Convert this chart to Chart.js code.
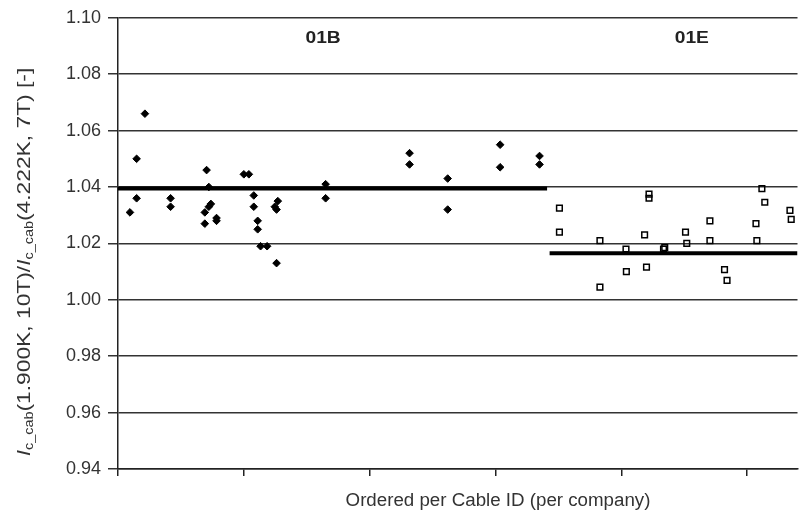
<!DOCTYPE html>
<html>
<head>
<meta charset="utf-8">
<script src="https://cdn.jsdelivr.net/npm/chart.js@4/dist/chart.umd.min.js"></script>
<style>
  body { margin: 0; background: #fff; }
  canvas { display: block; }
</style>
</head>
<body>
<canvas id="myChart" width="803" height="518"></canvas>
<script>
// cable order position (one x tick every 10) and Ic ratio, company 01B
var b01X = [0.95, 1.48, 1.48, 2.14, 4.18, 4.18, 6.9, 6.9, 7.04, 7.22, 7.22, 7.38, 7.83, 7.83,
            10.0, 10.4, 10.79, 10.79, 11.1, 11.1, 11.33, 11.85, 12.46, 12.6, 12.6, 12.7,
            16.5, 16.5, 23.17, 23.17, 26.2, 26.2, 30.37, 30.37, 33.5, 33.5];
var b01Y = [1.031, 1.036, 1.050, 1.066, 1.036, 1.033, 1.031, 1.027, 1.046, 1.040, 1.033, 1.034, 1.029, 1.028,
            1.0445, 1.0445, 1.037, 1.033, 1.028, 1.025, 1.019, 1.019, 1.033, 1.032, 1.013, 1.035,
            1.041, 1.036, 1.052, 1.048, 1.043, 1.032, 1.055, 1.047, 1.051, 1.048];

// company 01E
var e01X = [35.08, 35.08, 38.3, 38.3, 40.37, 40.4, 42.2, 42.2, 41.85, 42.0, 43.35, 43.45,
            45.1, 45.2, 47.04, 47.04, 48.2, 48.4, 50.77, 50.7, 51.17, 51.4, 53.4, 53.5];
var e01Y = [1.0325, 1.024, 1.021, 1.0045, 1.018, 1.010, 1.036, 1.0375, 1.023, 1.0116, 1.018, 1.0185,
            1.024, 1.020, 1.028, 1.021, 1.0107, 1.0069, 1.021, 1.027, 1.0394, 1.0346, 1.0317, 1.0285];

// company averages (start x, end x, value)
var meanB = [0, 34.1, 1.0395];
var meanE = [34.3, 54.0, 1.0165];

var groupNames = ['01B', '01E'];
var groupLabelX = [16.3, 45.6];
var yTicks = [0.94, 0.96, 0.98, 1.00, 1.02, 1.04, 1.06, 1.08, 1.10];

function toPoints(xs, ys) {
    return xs.map(function (x, i) { return { x: x, y: ys[i] }; });
}

var FONT = '"Liberation Sans", Arial, sans-serif';

var textPlugin = {
    id: 'texts',
    afterDraw: function (chart) {
        var c = chart.ctx;
        var xs = chart.scales.x, ys = chart.scales.y;
        c.save();
        c.fillStyle = '#222';
        c.textAlign = 'center';
        c.textBaseline = 'middle';
        c.font = 'bold 16px ' + FONT;
        groupNames.forEach(function (n, i) {
            c.save();
            c.translate(xs.getPixelForValue(groupLabelX[i]), ys.getPixelForValue(1.0926));
            c.scale(1.2, 1);
            c.fillText(n, 0, 0);
            c.restore();
        });

        // x title
        c.save();
        c.font = '18px ' + FONT;
        c.fillStyle = '#333';
        c.translate(498, 501);
        c.scale(1.04, 1);
        c.fillText('Ordered per Cable ID (per company)', 0, 0);
        c.restore();

        // y title with subscripts
        c.fillStyle = '#333';
        c.translate(25, 262);
        c.rotate(-Math.PI / 2);
        c.scale(1.2, 1);
        var parts = [
            ['I', 19, 0], ['c_cab', 12, 5], ['(1.900K, 10T)/', 19, 0],
            ['I', 19, 0], ['c_cab', 12, 5], ['(4.222K, 7T) [-]', 19, 0]
        ];
        var total = 0;
        parts.forEach(function (p) {
            c.font = (p[0] === 'I' ? 'italic ' : '') + p[1] + 'px ' + FONT;
            total += c.measureText(p[0]).width;
        });
        var x = -total / 2;
        c.textAlign = 'left';
        parts.forEach(function (p) {
            c.font = (p[0] === 'I' ? 'italic ' : '') + p[1] + 'px ' + FONT;
            c.fillText(p[0], x, p[2]);
            x += c.measureText(p[0]).width;
        });
        c.restore();
    }
};

var ctx = document.getElementById('myChart').getContext('2d');
var myChart = new Chart(ctx, {
    type: 'scatter',
    data: {
        datasets: [{
            label: '01B',
            data: toPoints(b01X, b01Y),
            pointStyle: 'rectRot',
            pointRadius: 3.8,
            backgroundColor: '#000',
            borderColor: '#000',
            borderWidth: 1,
            order: 1
        }, {
            label: '01E',
            data: toPoints(e01X, e01Y),
            pointStyle: 'rect',
            pointRadius: 4,
            backgroundColor: 'rgba(0,0,0,0)',
            borderColor: '#000',
            borderWidth: 1.5,
            order: 1
        }, {
            type: 'line',
            label: 'mean 01B',
            data: [{ x: meanB[0], y: meanB[2] }, { x: meanB[1], y: meanB[2] }],
            borderColor: '#000',
            borderWidth: 4,
            pointRadius: 0,
            order: 2
        }, {
            type: 'line',
            label: 'mean 01E',
            data: [{ x: meanE[0], y: meanE[2] }, { x: meanE[1], y: meanE[2] }],
            borderColor: '#000',
            borderWidth: 4,
            pointRadius: 0,
            order: 2
        }]
    },
    options: {
        responsive: false,
        animation: false,
        layout: { padding: { top: 17, left: 0, right: 0, bottom: 0 } },
        plugins: {
            legend: { display: false },
            tooltip: { enabled: false }
        },
        scales: {
            x: {
                type: 'linear',
                min: 0,
                max: 54.0,
                afterBuildTicks: function (scale) {
                    scale.ticks = [0, 10, 20, 30, 40, 50].map(function (v) { return { value: v }; });
                },
                afterFit: function (scale) { scale.height = 49; },
                ticks: { callback: function () { return ''; } },
                grid: {
                    drawOnChartArea: false,
                    drawTicks: true,
                    tickLength: 7,
                    color: '#222',
                    lineWidth: 1.5
                },
                border: { color: '#222', width: 1.5 }
            },
            y: {
                min: 0.94,
                max: 1.10,
                afterBuildTicks: function (scale) {
                    scale.ticks = yTicks.map(function (v) { return { value: v }; });
                },
                afterFit: function (scale) { scale.width = 118; },
                ticks: {
                    color: '#333',
                    padding: 7,
                    font: { family: FONT, size: 18 },
                    callback: function (v) { return v.toFixed(2); }
                },
                grid: {
                    color: '#333',
                    lineWidth: 1.5,
                    drawTicks: true,
                    tickLength: 10
                },
                border: { color: '#222', width: 1.5 }
            }
        }
    },
    plugins: [textPlugin]
});
</script>
</body>
</html>
